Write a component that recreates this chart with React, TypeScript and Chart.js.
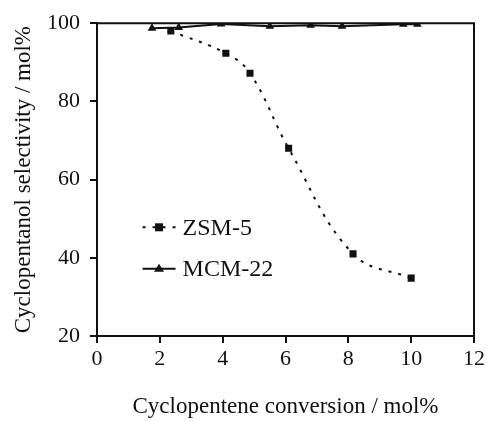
import React, { useEffect, useRef } from "react";
import { Chart, registerables } from "chart.js";

Chart.register(...registerables);

const zsmX = [2.35, 4.1, 4.87, 6.1, 8.15, 10.0];
const zsmY = [98.0, 92.3, 87.2, 68.0, 41.0, 34.8];
const mcmX = [1.75, 2.6, 3.95, 5.5, 6.8, 7.8, 9.75, 10.2];
const mcmY = [98.7, 98.9, 99.8, 99.2, 99.5, 99.2, 99.7, 99.7];
const xTicks = [0, 2, 4, 6, 8, 10, 12];
const yTicks = [20, 40, 60, 80, 100];
const seriesNames = ["ZSM-5", "MCM-22"];

const FONT = "'Liberation Serif', 'DejaVu Serif', serif";

const frame = {
  id: "frame",
  afterDraw(chart: any) {
    const { ctx, chartArea } = chart;
    ctx.save();
    ctx.strokeStyle = "#111";
    ctx.lineWidth = 2;
    ctx.beginPath();
    ctx.moveTo(chartArea.left, chartArea.top);
    ctx.lineTo(chartArea.right, chartArea.top);
    ctx.lineTo(chartArea.right, chartArea.bottom);
    ctx.stroke();
    ctx.restore();
  },
};

const legendPlugin = {
  id: "insideLegend",
  afterDraw(chart: any) {
    const { ctx } = chart;
    const xs = chart.scales.x;
    const ys = chart.scales.y;
    const x0 = xs.getPixelForValue(1.45);
    const x1 = xs.getPixelForValue(2.5);
    const rows = [ys.getPixelForValue(47.8), ys.getPixelForValue(37.2)];
    ctx.save();
    chart.data.datasets.forEach((ds: any, i: number) => {
      const y = rows[i];
      ctx.strokeStyle = "#111";
      ctx.lineWidth = ds.borderWidth;
      ctx.setLineDash(ds.borderDash || []);
      ctx.beginPath();
      ctx.moveTo(x0, y);
      ctx.lineTo(x1, y);
      ctx.stroke();
      ctx.setLineDash([]);
      ctx.fillStyle = "#111";
      const cx = (x0 + x1) / 2;
      if (ds.pointStyle === "rect") {
        ctx.fillRect(cx - 4, y - 4, 8, 8);
      } else {
        ctx.beginPath();
        ctx.moveTo(cx, y - 5);
        ctx.lineTo(cx + 5, y + 3);
        ctx.lineTo(cx - 5, y + 3);
        ctx.closePath();
        ctx.fill();
      }
      ctx.font = `24px ${FONT}`;
      ctx.textBaseline = "middle";
      ctx.textAlign = "left";
      ctx.fillText(ds.label, x1 + 7, y + 1);
    });
    ctx.restore();
  },
};

export default function App() {
  const ref = useRef<HTMLCanvasElement>(null);
  useEffect(() => {
    document.body.style.margin = "0";
    const chart = new Chart(ref.current!, {
      type: "scatter",
      data: {
        datasets: [
          {
            label: seriesNames[0],
            data: zsmX.map((x, i) => ({ x, y: zsmY[i] })),
            showLine: true,
            borderColor: "#111",
            backgroundColor: "#111",
            borderWidth: 2,
            borderDash: [3, 7],
            tension: 0.4,
            pointStyle: "rect",
            pointRadius: 5,
            pointBorderWidth: 0,
          },
          {
            label: seriesNames[1],
            data: mcmX.map((x, i) => ({ x, y: mcmY[i] })),
            showLine: true,
            borderColor: "#111",
            backgroundColor: "#111",
            borderWidth: 2,
            tension: 0,
            pointStyle: "triangle",
            pointRadius: 5,
            pointBorderWidth: 0,
          },
        ],
      },
      options: {
        animation: false,
        responsive: false,
        maintainAspectRatio: false,
        layout: { padding: { left: 0, top: 18, right: 15, bottom: 0 } },
        plugins: { legend: { display: false }, tooltip: { enabled: false } },
        scales: {
          x: {
            type: "linear",
            min: 0,
            max: 12,
            afterBuildTicks: (s: any) => {
              s.ticks = xTicks.map((v) => ({ value: v }));
            },
            afterFit: (s: any) => {
              s.height = 85;
            },
            border: { color: "#111", width: 2 },
            grid: { drawOnChartArea: false, drawTicks: true, tickLength: 7, color: "#111", lineWidth: 2 },
            ticks: { color: "#111", font: { family: FONT, size: 22 }, padding: 3 },
            title: {
              display: true,
              text: "Cyclopentene conversion / mol%",
              color: "#111",
              font: { family: FONT, size: 23 },
              padding: { top: 0, bottom: 0 },
            },
          },
          y: {
            type: "linear",
            min: 20,
            max: 100,
            afterBuildTicks: (s: any) => {
              s.ticks = yTicks.map((v) => ({ value: v }));
            },
            afterFit: (s: any) => {
              s.width = 97;
            },
            border: { color: "#111", width: 2 },
            grid: { drawOnChartArea: false, drawTicks: true, tickLength: 7, color: "#111", lineWidth: 2 },
            ticks: { color: "#111", font: { family: FONT, size: 22 }, padding: 10 },
            title: {
              display: true,
              text: "Cyclopentanol selectivity / mol%",
              color: "#111",
              font: { family: FONT, size: 23 },
              padding: { top: 10, bottom: 0 },
            },
          },
        },
      },
      plugins: [frame, legendPlugin],
    } as any);
    return () => chart.destroy();
  }, []);
  return <canvas ref={ref} width={489} height={421} style={{ display: "block" }} />;
}
